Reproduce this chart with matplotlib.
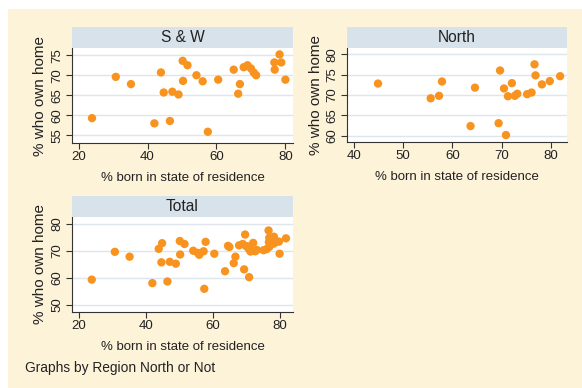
import matplotlib.pyplot as plt
from matplotlib.patches import Rectangle

plt.rcParams['font.family'] = ['Liberation Sans', 'DejaVu Sans']

# % born in state of residence / % who own home
sw_born = [23.9, 30.8, 35.2, 43.9, 42.0, 44.7, 46.5, 47.2, 49.0, 50.2, 51.6, 50.3,
           54.2, 56.0, 57.5, 60.5, 65.0, 66.8, 66.3, 67.9, 69.0, 70.0, 70.8, 71.5,
           76.8, 76.9, 78.3, 78.8, 80.0]
sw_own = [59.3, 69.6, 67.8, 70.7, 58.0, 65.7, 58.6, 65.9, 65.2, 73.6, 72.5, 68.6,
          70.0, 68.5, 55.9, 68.9, 71.4, 67.8, 65.4, 72.0, 72.5, 71.7, 70.7, 70.0,
          73.2, 71.4, 75.2, 73.2, 68.9]

north_born = [44.9, 55.6, 57.3, 57.9, 64.6, 63.7, 69.4, 69.7, 70.5, 70.9, 71.3,
              72.1, 72.7, 73.2, 75.2, 76.1, 76.7, 76.9, 78.2, 79.8, 81.9]
north_own = [72.8, 69.2, 69.8, 73.3, 71.8, 62.4, 63.1, 76.0, 71.6, 60.2, 69.7,
             72.9, 69.8, 70.3, 70.2, 70.6, 77.5, 74.8, 72.6, 73.4, 74.6]

W, H = 582, 388
bg = '#fdf3d9'
orange = '#f7931e'
header = '#d8e2ea'
grid = '#dfe5ec'
txt = '#222222'

fig = plt.figure(figsize=(W / 100, H / 100), dpi=100)
fig.patch.set_facecolor('white')
fig.patches.append(Rectangle((8 / W, 0), 1, 1 - 9 / H, transform=fig.transFigure,
                             facecolor=bg, edgecolor='none', zorder=-10))


def panel(x0, x1, y_top, y_bot, head_top, title, xs, ys, xlim, ylim, yticks, xticks):
    ax = fig.add_axes([x0 / W, 1 - y_bot / H, (x1 - x0) / W, (y_bot - y_top) / H])
    ax.scatter(xs, ys, s=36, color=orange, edgecolors='none', zorder=3)
    ax.set_xlim(xlim)
    ax.set_ylim(ylim)
    ax.set_xticks(xticks)
    ax.set_yticks(yticks)
    ax.set_facecolor('white')
    ax.grid(axis='y', color=grid, linewidth=1)
    ax.set_axisbelow(True)
    for s in ['top', 'right']:
        ax.spines[s].set_visible(False)
    for s in ['left', 'bottom']:
        ax.spines[s].set_color('#333333')
        ax.spines[s].set_linewidth(0.8)
    ax.tick_params(length=4, width=0.8, color='#333333', labelsize=9.5, pad=2,
                   labelcolor=txt)
    for lab in ax.get_yticklabels():
        lab.set_rotation(90)
        lab.set_va('center')
    ax.set_xlabel('% born in state of residence', fontsize=9.5, labelpad=6, color=txt)
    ax.set_ylabel('% who own home', fontsize=11, labelpad=3, color=txt)

    hx = fig.add_axes([x0 / W, 1 - y_top / H, (x1 - x0) / W, (y_top - head_top) / H])
    hx.set_facecolor(header)
    hx.set_xticks([])
    hx.set_yticks([])
    for s in hx.spines.values():
        s.set_visible(False)
    hx.text(0.5, 0.5, title, ha='center', va='center', fontsize=11.2,
            transform=hx.transAxes, color=txt)
    return ax


panel(72, 293, 48, 143, 27, 'S & W', sw_born, sw_own, (18.1, 82.2), (53.1, 76.8),
      [55, 60, 65, 70, 75], [20, 40, 60, 80])
panel(347, 567, 48, 142, 27, 'North', north_born, north_own, (38.6, 83.3), (58.5, 81.5),
      [60, 65, 70, 75, 80], [40, 50, 60, 70, 80])
panel(72, 293, 217, 312, 196, 'Total', sw_born + north_born, sw_own + north_own,
      (18.0, 84.0), (47.3, 82.5), [50, 60, 70, 80], [20, 40, 60, 80])

fig.text(25 / W, 1 - 368 / H, 'Graphs by Region North or Not', fontsize=9.9,
         va='center', color=txt)

fig.savefig('out.png', dpi=100, facecolor=fig.get_facecolor())
